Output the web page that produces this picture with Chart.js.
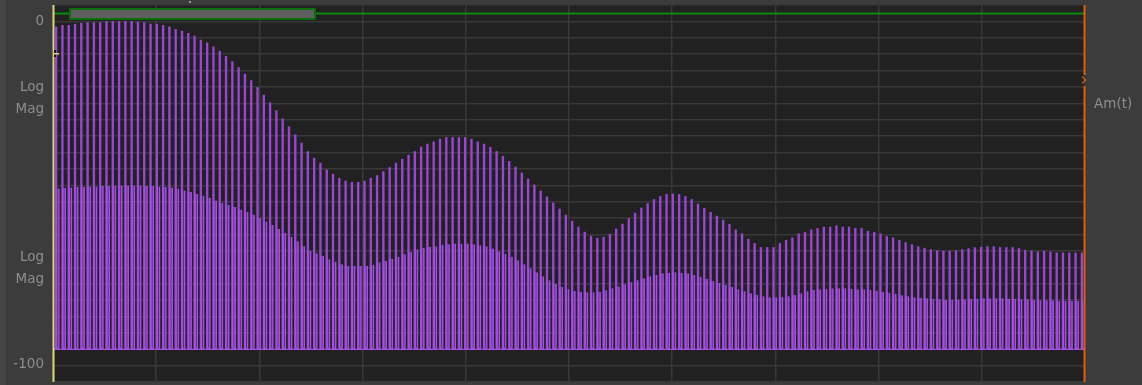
<!DOCTYPE html>
<html>
<head>
<meta charset="utf-8">
<script src="https://cdn.jsdelivr.net/npm/chart.js@4.4.1/dist/chart.umd.min.js"></script>
<style>
  html, body { margin: 0; padding: 0; background: #3c3c3c; }
  #wrap { width: 1142px; height: 385px; position: relative; }
</style>
</head>
<body>
<div id="wrap"><canvas id="c" width="1142" height="385"></canvas></div>
<script>
// Log-magnitude spectrum, dB per frequency bin (two traces)
const upperDb = [
  -1.55, -1.17, -1.17, -0.79, -0.58, -0.38, -0.38, -0.38, 0, 0,
  0, 0, 0, -0.2, -0.38, -0.79, -0.79, -1.17, -1.55, -2.33,
  -2.83, -3.5, -4.29, -5.45, -6.21, -7.38, -8.66, -10.12, -11.66, -13.41,
  -15.3, -17.2, -19.24, -21.43, -23.61, -25.95, -28.28, -30.61, -32.94, -35.36,
  -37.81, -39.73, -41.19, -43.14, -44.4, -45.56, -46.35, -46.73, -46.73, -46.35,
  -45.56, -44.8, -43.64, -42.47, -41.19, -40.02, -38.86, -37.81, -36.53, -35.65,
  -34.98, -34.19, -33.73, -33.73, -33.73, -33.73, -34.19, -34.98, -35.65, -36.53,
  -37.81, -39.21, -40.67, -42.27, -44.02, -45.77, -47.51, -49.26, -51.01, -52.76,
  -54.51, -56.26, -58.01, -59.76, -61.22, -62.38, -62.97, -62.68, -61.8, -60.34,
  -58.88, -57.28, -55.68, -54.22, -52.91, -51.74, -50.87, -50.28, -50.14, -50.28,
  -50.87, -51.74, -53.05, -54.31, -55.47, -56.55, -57.72, -58.97, -60.55, -61.71,
  -63.26, -64.51, -65.68, -65.68, -65.68, -64.51, -63.63, -62.88, -61.71, -61.3,
  -60.55, -60.14, -59.76, -59.76, -59.38, -59.76, -59.76, -60.14, -60.14, -60.92,
  -61.3, -61.71, -62.47, -62.88, -63.63, -64.28, -64.86, -65.44, -65.88, -66.32,
  -66.61, -66.75, -66.75, -66.61, -66.32, -66.02, -65.73, -65.59, -65.44, -65.44,
  -65.68, -65.68, -65.68, -65.97, -66.46, -66.67, -66.96, -66.75, -66.96, -67.25,
  -67.25, -67.25, -67.25, -67.25
];

const lowerDb = [
  -48.53, -48.39, -48.24, -48.1, -48.1, -47.95, -47.95, -47.81, -47.81, -47.66,
  -47.66, -47.66, -47.66, -47.66, -47.81, -47.81, -47.95, -48.1, -48.24, -48.53,
  -49.12, -49.56, -50.14, -50.58, -51.3, -52.03, -52.76, -53.34, -53.93, -54.66,
  -55.38, -56.11, -57.13, -58.15, -59.17, -60.34, -61.51, -62.67, -63.84, -65.3,
  -66.61, -67.34, -68.07, -69.09, -69.81, -70.54, -70.98, -71.04, -71.04, -70.98,
  -70.69, -69.96, -69.52, -68.94, -68.36, -67.63, -66.96, -66.17, -65.73, -65.5,
  -65.3, -64.86, -64.71, -64.51, -64.51, -64.51, -64.71, -65.0, -65.3, -65.97,
  -66.75, -67.48, -68.36, -69.38, -70.54, -71.71, -72.88, -74.04, -75.21, -76.23,
  -77.1, -77.83, -78.27, -78.56, -78.71, -78.71, -78.56, -78.12, -77.54, -76.96,
  -76.37, -75.79, -75.21, -74.62, -74.04, -73.6, -73.17, -73.02, -72.88, -73.02,
  -73.17, -73.6, -74.19, -74.77, -75.35, -75.94, -76.52, -77.1, -77.83, -78.41,
  -79.0, -79.43, -79.87, -80.16, -80.16, -80.02, -79.87, -79.43, -79.0, -78.41,
  -77.98, -77.83, -77.69, -77.54, -77.54, -77.54, -77.69, -77.83, -77.83, -77.98,
  -78.27, -78.56, -78.85, -79.14, -79.58, -79.87, -80.16, -80.31, -80.45, -80.6,
  -80.75, -80.89, -80.89, -80.89, -80.75, -80.6, -80.6, -80.45, -80.45, -80.45,
  -80.45, -80.6, -80.6, -80.75, -80.75, -80.89, -81.04, -81.04, -81.04, -81.18,
  -81.18, -81.18, -81.18, -81.18
];

// Axis settings (dB)
const yTop = 0;
const yBottom = -100;
const yDivisions = 21;          // grid rows between 0 and -100
const stemFloorDb = -95.24;     // stems start from this level
const xDivisions = 10;

const STEP = (yTop - yBottom) / yDivisions;
const N = upperDb.length;

const upperPts = upperDb.map((v, i) => ({ x: i, y: [stemFloorDb, v] }));
const lowerPts = lowerDb.map((v, i) => ({ x: i + 0.24, y: [stemFloorDb, v] }));

const PANEL = '#3c3c3c';
const PLOT_BG = '#212121';
const GRID = '#383838';
const TEXT = '#8e8e8e';
const FONT = '13.5px "DejaVu Sans", sans-serif';

const backdrop = {
  id: 'backdrop',
  beforeDraw(chart) {
    const { ctx, chartArea: a, width, height } = chart;
    ctx.save();
    ctx.fillStyle = PANEL;
    ctx.fillRect(0, 0, width, height);
    ctx.fillStyle = '#454545';
    ctx.fillRect(0, 0, 6, height);
    ctx.fillStyle = PLOT_BG;
    ctx.fillRect(a.left, a.top, a.right - a.left, a.bottom - a.top);
    ctx.restore();
  }
};

const overlay = {
  id: 'overlay',
  afterDatasetsDraw(chart) {
    const { ctx, chartArea: a, scales } = chart;
    const y = scales.y;
    ctx.save();

    // common floor line of the lower trace
    const fy = Math.round(y.getPixelForValue(stemFloorDb)) + 0.5;
    ctx.strokeStyle = '#a24fe0';
    ctx.lineWidth = 1;
    ctx.beginPath();
    ctx.moveTo(a.left, fy);
    ctx.lineTo(a.right, fy);
    ctx.stroke();

    // top band: green track with grey handle
    ctx.fillStyle = '#0e8a0e';
    ctx.fillRect(a.left, 12.5, a.right - a.left, 2);
    ctx.fillStyle = '#0b6e0b';
    ctx.fillRect(69, 8, 247, 12);
    ctx.fillStyle = '#5f5f5f';
    ctx.fillRect(71, 10, 243, 8);

    // left cursor (yellow)
    ctx.fillStyle = '#d9d97a';
    ctx.fillRect(a.left - 0.5, a.top, 2, a.bottom - a.top);
    ctx.fillStyle = '#1a1a1a';
    ctx.fillRect(a.left - 1, 50, 4, 7);
    ctx.fillStyle = '#d9d97a';
    ctx.fillRect(a.left - 0.5, 50, 1.5, 7);
    ctx.fillRect(a.left, 53, 6, 1.5);

    // right cursor (orange) with arrow
    ctx.fillStyle = '#e05c12';
    ctx.fillRect(a.right - 1.5, a.top, 2, 70);
    ctx.fillRect(a.right - 1.5, 86, 2, a.bottom - 86);
    ctx.strokeStyle = '#e05c12';
    ctx.lineWidth = 1.3;
    ctx.beginPath();
    ctx.moveTo(a.right - 3, 76.5);
    ctx.lineTo(a.right + 0.5, 80);
    ctx.lineTo(a.right - 3, 83.5);
    ctx.stroke();

    // small marker above the plot
    ctx.fillStyle = '#9a9a9a';
    ctx.fillRect(189, 1, 2, 2);

    // axis captions
    ctx.fillStyle = TEXT;
    ctx.font = FONT;
    ctx.textBaseline = 'middle';
    ctx.textAlign = 'right';
    const lx = 44;
    ctx.fillText(String(yTop), lx, y.getPixelForValue(yTop));
    ctx.fillText(String(yBottom), lx, y.getPixelForValue(yBottom) - 1);
    ctx.fillText('Log', lx, 87);
    ctx.fillText('Mag', lx, 109);
    ctx.fillText('Log', lx, 257);
    ctx.fillText('Mag', lx, 279);
    ctx.textAlign = 'left';
    ctx.fillText('Am(t)', 1094, 104);
    ctx.restore();
  }
};

new Chart(document.getElementById('c'), {
  type: 'bar',
  data: {
    datasets: [
      {
        label: 'upper',
        data: upperPts,
        backgroundColor: '#9a46d4',
        borderWidth: 0,
        barThickness: 1.7,
        grouped: false,
        order: 1
      },
      {
        label: 'lower',
        data: lowerPts,
        backgroundColor: 'rgba(162,79,224,0.25)',
        borderColor: '#a550e4',
        borderWidth: 1,
        borderSkipped: 'start',
        barThickness: 3.6,
        grouped: false,
        order: 0
      }
    ]
  },
  options: {
    responsive: false,
    animation: false,
    devicePixelRatio: 1,
    layout: { padding: { left: 53, right: 57, top: 5, bottom: 3 } },
    plugins: {
      legend: { display: false },
      tooltip: { enabled: false }
    },
    scales: {
      x: {
        type: 'linear',
        offset: false,
        min: -0.5,
        max: N - 0.5,
        ticks: { display: false, stepSize: N / xDivisions },
        grid: { color: GRID, lineWidth: 1.5, drawTicks: false, offset: false },
        border: { display: false }
      },
      y: {
        type: 'linear',
        min: yBottom - STEP,
        max: yTop + STEP,
        ticks: { display: false, stepSize: STEP },
        grid: { color: GRID, lineWidth: 1.5, drawTicks: false },
        border: { display: false }
      }
    }
  },
  plugins: [backdrop, overlay]
});
</script>
</body>
</html>
